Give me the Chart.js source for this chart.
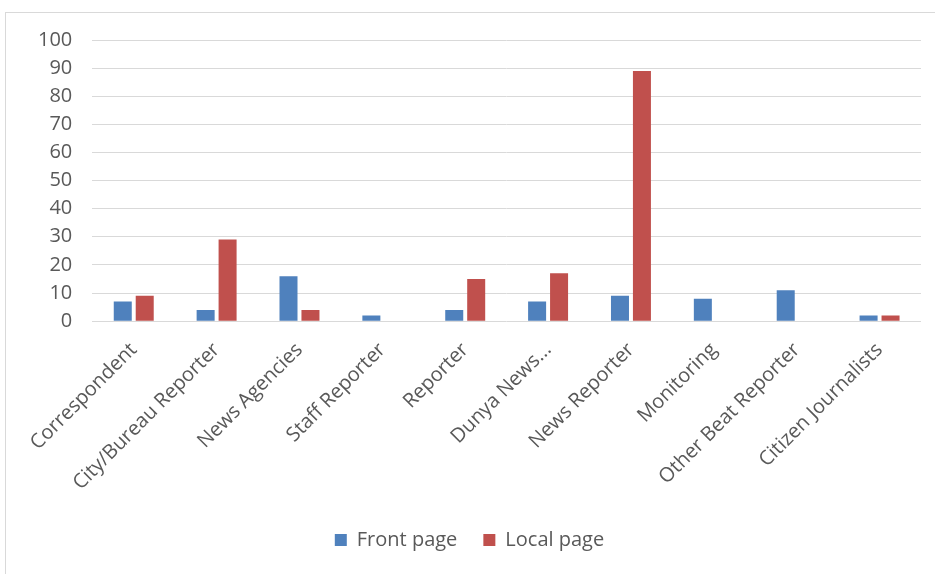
<!DOCTYPE html>
<html>
<head>
<meta charset="utf-8">
<script src="https://cdn.jsdelivr.net/npm/chart.js@4"></script>
<style>
  body { margin: 0; background: #fff; }
  #wrap { position: relative; width: 935px; height: 574px; }
  #frame { position: absolute; left: 5px; top: 12px; width: 940px; height: 570px; border: 1px solid #d9d9d9; pointer-events: none; }
</style>
</head>
<body>
<div id="wrap">
  <canvas id="chart" width="935" height="574"></canvas>
  <div id="frame"></div>
</div>
<script>
const categories = ['Correspondent', 'City/Bureau Reporter', 'News Agencies', 'Staff Reporter', 'Reporter',
  'Dunya News...', 'News Reporter', 'Monitoring', 'Other Beat Reporter', 'Citizen Journalists']
const frontPage = [7, 4, 16, 2, 4, 7, 9, 8, 11, 2]
const localPage = [9, 29, 4, 0, 15, 17, 89, 0, 0, 2]
const yTicks = [0, 10, 20, 30, 40, 50, 60, 70, 80, 90, 100]

const canvas = document.getElementById('chart')

let chart = new Chart(canvas, {
  type: 'bar',
  data: {
    labels: categories,
    datasets: [{
      label: 'Front page',
      data: frontPage,
      backgroundColor: '#4F81BD',
      barPercentage: 0.82,
      categoryPercentage: 0.53
    }, {
      label: 'Local page',
      data: localPage,
      backgroundColor: '#C0504D',
      barPercentage: 0.82,
      categoryPercentage: 0.53
    }]
  },
  options: {
    responsive: false,
    animation: false,
    layout: { padding: { top: 40, left: 18, right: 14, bottom: 14 } },
    scales: {
      x: {
        grid: { display: false },
        border: { display: false },
        ticks: { color: '#595959', font: { family: 'Open Sans', size: 20 }, minRotation: 45, maxRotation: 45, autoSkip: false, padding: 9 }
      },
      y: {
        min: 0,
        max: 100,
        afterBuildTicks: axis => { axis.ticks = yTicks.map(v => ({ value: v })) },
        grid: { color: '#d9d9d9', lineWidth: 1, drawTicks: false },
        border: { display: false },
        ticks: { color: '#595959', font: { family: 'Open Sans', size: 20 }, padding: 20 }
      }
    },
    plugins: {
      legend: {
        position: 'bottom',
        labels: { color: '#595959', font: { family: 'Open Sans', size: 20 }, boxWidth: 12, boxHeight: 12, padding: 26 }
      },
      tooltip: { enabled: false }
    }
  }
})
</script>
</body>
</html>
